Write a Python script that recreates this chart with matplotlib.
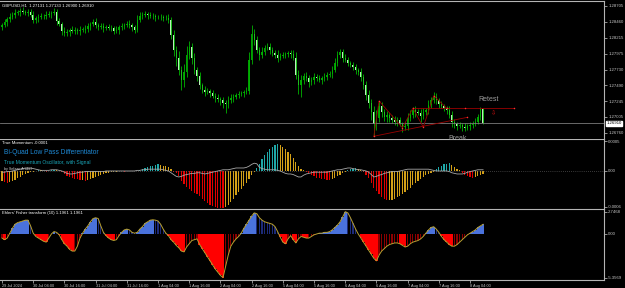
import matplotlib
matplotlib.use("Agg")
import matplotlib.pyplot as plt
import numpy as np

plt.rcParams["font.family"] = ["Liberation Sans", "DejaVu Sans"]

# ---- data (H1 bars, first bar 29 Jul 16:00) ----
first_open = 1.2838
closes = [
    1.2841, 1.2846, 1.2850, 1.2853, 1.2857, 1.2860, 1.2861, 1.2863, 1.2861, 1.2860,
    1.2861, 1.2857, 1.2849, 1.2852, 1.2853, 1.2855, 1.2855, 1.2857, 1.2858, 1.2860,
    1.2861, 1.2847, 1.2843, 1.2832, 1.2829, 1.2831, 1.2834, 1.2832, 1.2834, 1.2832,
    1.2834, 1.2834, 1.2835, 1.2840, 1.2843, 1.2846, 1.2841, 1.2838, 1.2840, 1.2837,
    1.2838, 1.2837, 1.2837, 1.2832, 1.2834, 1.2838, 1.2840, 1.2841, 1.2843, 1.2841,
    1.2838, 1.2834, 1.2849, 1.2855, 1.2857, 1.2858, 1.2857, 1.2855, 1.2855, 1.2853,
    1.2853, 1.2853, 1.2852, 1.2852, 1.2849, 1.2826, 1.2803, 1.2791, 1.2772, 1.2757,
    1.2769, 1.2795, 1.2808, 1.2791, 1.2772, 1.2763, 1.2749, 1.2742, 1.2739, 1.2740,
    1.2737, 1.2733, 1.2730, 1.2728, 1.2726, 1.2722, 1.2720, 1.2726, 1.2730, 1.2731,
    1.2734, 1.2736, 1.2737, 1.2739, 1.2740, 1.2788, 1.2827, 1.2818, 1.2803, 1.2795,
    1.2800, 1.2806, 1.2808, 1.2803, 1.2798, 1.2795, 1.2791, 1.2794, 1.2795, 1.2797,
    1.2798, 1.2797, 1.2791, 1.2765, 1.2749, 1.2757, 1.2763, 1.2760, 1.2754, 1.2757,
    1.2762, 1.2760, 1.2757, 1.2760, 1.2762, 1.2765, 1.2766, 1.2772, 1.2783, 1.2795,
    1.2800, 1.2791, 1.2788, 1.2783, 1.2780, 1.2777, 1.2772, 1.2769, 1.2762, 1.2749,
    1.2734, 1.2722, 1.2708, 1.2690, 1.2699, 1.2717, 1.2708, 1.2700, 1.2704, 1.2699,
    1.2696, 1.2693, 1.2696, 1.2690, 1.2685, 1.2687, 1.2699, 1.2704, 1.2711, 1.2708,
    1.2707, 1.2702, 1.2708, 1.2711, 1.2719, 1.2726, 1.2731, 1.2726, 1.2720, 1.2717,
    1.2714, 1.2711, 1.2704, 1.2693, 1.2690, 1.2687, 1.2688, 1.2685, 1.2684, 1.2687,
    1.2688, 1.2690, 1.2693, 1.2700, 1.27131, 1.26910,
]
# wick lengths in pips above the body top / below the body bottom
upper_wick = [
    4, 5, 3, 6, 4, 5, 3, 4, 6, 3, 5, 4, 6, 3, 5, 4, 3, 5, 4, 3,
    6, 4, 5, 3, 6, 4, 3, 5, 4, 3, 5, 4, 6, 5, 3, 4, 6, 3, 5, 4,
    3, 5, 4, 3, 6, 4, 5, 3, 4, 6, 3, 4, 8, 6, 4, 5, 3, 4, 5, 3,
    4, 5, 3, 4, 6, 5, 8, 6, 10, 7, 12, 14, 9, 6, 8, 5, 7, 4, 6, 5,
    4, 5, 4, 6, 3, 5, 4, 6, 5, 4, 3, 5, 4, 3, 6, 12, 15, 8, 6, 5,
    7, 4, 5, 6, 4, 5, 8, 4, 5, 3, 4, 5, 6, 9, 7, 8, 5, 6, 4, 5,
    6, 4, 5, 3, 6, 4, 5, 7, 8, 6, 5, 4, 6, 5, 3, 4, 5, 4, 6, 5,
    7, 8, 6, 10, 12, 8, 7, 5, 6, 4, 5, 6, 4, 5, 3, 6, 8, 7, 5, 6,
    4, 5, 6, 4, 7, 5, 8, 6, 4, 5, 3, 4, 6, 5, 4, 3, 5, 4, 6, 3,
    5, 4, 6, 5, 3, 1,
]
lower_wick = [
    5, 3, 6, 4, 3, 5, 4, 6, 3, 4, 5, 3, 5, 4, 6, 3, 4, 5, 3, 6,
    4, 5, 3, 6, 5, 4, 6, 3, 5, 4, 6, 3, 5, 4, 6, 3, 4, 5, 3, 6,
    4, 3, 5, 4, 3, 6, 4, 5, 3, 4, 6, 5, 4, 3, 5, 4, 6, 3, 4, 5,
    3, 4, 5, 3, 4, 6, 9, 12, 8, 15, 10, 7, 6, 9, 5, 8, 6, 5, 7, 4,
    6, 4, 6, 5, 7, 8, 14, 5, 4, 6, 3, 5, 4, 6, 3, 5, 6, 7, 5, 8,
    4, 5, 3, 6, 4, 5, 7, 4, 3, 5, 4, 6, 4, 7, 14, 18, 6, 5, 8, 4,
    6, 5, 3, 6, 4, 5, 4, 6, 3, 5, 4, 6, 4, 5, 3, 4, 6, 5, 7, 6,
    8, 7, 12, 19, 9, 6, 8, 5, 7, 6, 4, 5, 6, 4, 7, 5, 6, 4, 5, 7,
    3, 9, 5, 4, 6, 5, 4, 6, 5, 3, 4, 6, 5, 8, 6, 7, 4, 6, 5, 4,
    6, 5, 4, 3, 4, 2,
]
price_ticks = [1.26760, 1.27005, 1.27245, 1.27490, 1.27730, 1.27975, 1.28215, 1.28460, 1.28705]

# True Momentum histogram and its signal, in units of 1e-4
momentum = [
    -1.6, -1.9, -2.0, -1.9, -1.7, -1.5, -1.2, -1.0, -0.7, -0.5,
    -0.3, -0.2, -0.1, 0.0, 0.1, 0.1, 0.0, -0.1, 0.0, 0.1,
    0.2, 0.1, 0.0, -0.2, -0.5, -0.8, -1.0, -1.2, -1.3, -1.4,
    -1.5, -1.5, -1.6, -1.5, -1.4, -1.2, -1.0, -0.8, -0.6, -0.5,
    -0.4, -0.3, -0.2, -0.1, -0.1, 0.0, 0.0, -0.1, 0.0, 0.0,
    0.0, 0.0, 0.0, 0.1, 0.3, 0.5, 0.7, 0.8, 0.9, 1.0,
    1.1, 1.0, 0.9, 0.8, 0.6, 0.3, -0.1, -0.3, -0.8, -1.6,
    -2.2, -2.6, -3.0, -3.3, -3.6, -3.9, -4.2, -4.6, -5.0, -5.3,
    -5.6, -5.8, -6.0, -6.1, -6.15, -6.2, -6.0, -5.6, -5.2, -4.6,
    -4.0, -3.5, -3.0, -2.5, -2.0, -1.3, -0.6, -0.1, 0.5, 1.2,
    2.0, 2.6, 3.1, 3.6, 4.0, 4.4, 4.5, 4.3, 4.0, 3.7,
    3.2, 2.8, 2.2, 1.5, 0.8, 0.4, 0.2, -0.1, -0.4, -0.7,
    -0.9, -1.1, -1.2, -1.3, -1.4, -1.5, -1.55, -1.3, -1.1, -0.8,
    -0.6, -0.4, -0.2, 0.2, 0.3, 0.4, 0.5, 0.4, 0.2, -0.2,
    -0.6, -1.2, -2.0, -2.8, -3.4, -3.8, -4.3, -4.7, -4.9, -4.85,
    -4.8, -4.6, -4.4, -4.1, -3.8, -3.5, -3.2, -2.8, -2.4, -2.0,
    -1.7, -1.3, -1.0, -0.7, -0.5, -0.3, -0.1, 0.3, 0.6, 0.9,
    1.1, 1.2, 1.25, 1.0, 0.7, 0.4, 0.1, -0.3, -0.6, -0.8,
    -1.0, -1.1, -1.0, -0.8, -0.6, -0.5,
]
signal = [
    -0.2, -0.2, -0.1, -0.1, 0.0, 0.1, 0.2, 0.3, 0.4, 0.5,
    0.5, 0.5, 0.4, 0.3, 0.2, 0.1, 0.1, 0.1, 0.1, 0.2,
    0.2, 0.2, 0.1, 0.0, -0.2, -0.4, -0.5, -0.5, -0.4, -0.3,
    -0.2, -0.2, -0.1, -0.1, -0.1, -0.1, -0.1, -0.1, -0.1, -0.1,
    0.0, 0.0, 0.0, 0.0, 0.0, 0.0, 0.0, 0.0, 0.0, 0.0,
    0.0, 0.0, 0.1, 0.1, 0.2, 0.2, 0.3, 0.3, 0.3, 0.3,
    0.3, 0.3, 0.2, 0.1, 0.0, -0.3, -0.6, -0.9, -1.0, -0.9,
    -0.7, -0.6, -0.5, -0.4, -0.4, -0.3, -0.3, -0.4, -0.5, -0.4,
    -0.3, -0.2, -0.1, 0.0, 0.1, 0.2, 0.2, 0.2, 0.3, 0.4,
    0.5, 0.5, 0.5, 0.5, 0.6, 0.8, 1.1, 1.3, 1.2, 0.6,
    0.4, 0.3, 0.2, 0.2, 0.2, 0.2, 0.1, 0.0, -0.2, -0.4,
    -0.5, -0.5, -0.6, -0.8, -1.0, -1.0, -0.7, -0.5, -0.4, -0.3,
    -0.2, -0.2, -0.2, -0.2, -0.2, -0.2, -0.1, 0.0, 0.1, 0.2,
    0.2, 0.3, 0.4, 0.5, 0.5, 0.4, 0.3, 0.2, 0.2, 0.1,
    0.0, -0.2, -0.6, -1.0, -0.9, -0.7, -0.6, -0.4, -0.3, -0.2,
    -0.1, -0.1, -0.1, 0.0, 0.1, 0.2, 0.3, 0.3, 0.3, 0.3,
    0.3, 0.3, 0.3, 0.3, 0.3, 0.2, 0.1, 0.0, 0.0, 0.0,
    0.0, 0.0, -0.1, -0.3, -0.4, -0.5, -0.5, -0.5, -0.4, -0.2,
    -0.1, 0.0, 0.1, 0.2, 0.2, 0.2,
]
mom_ticks = [5.0, 0.0, -6.0]
mom_tick_labels = ["0.0005", "0.00", "-0.0006"]

# Ehlers' Fisher transform (10)
fisher = [
    -0.5, -0.7, -0.5, 0.1, 0.7, 1.2, 1.4, 1.5, 1.6, 1.7,
    1.7, 1.0, 0.1, -0.3, -0.5, -0.7, -0.9, -1.0, -0.5, 0.0,
    0.3, 0.2, -0.1, -0.7, -1.2, -1.5, -1.9, -2.1, -2.1, -1.5,
    -0.5, 0.1, 0.6, 1.0, 1.5, 1.9, 2.0, 1.9, 1.0, 0.2,
    -0.2, -0.5, -0.7, -0.8, -0.7, -0.2, 0.2, 0.5, 0.6, 0.5,
    0.2, 0.1, 0.2, 0.6, 0.9, 1.3, 1.5, 1.7, 1.75, 1.7,
    1.6, 1.2, 0.6, 0.1, -0.2, -0.7, -1.0, -1.4, -1.7, -2.1,
    -2.2, -1.6, -1.2, -0.8, -0.7, -0.6, -1.3, -1.8, -2.3, -2.8,
    -3.3, -3.8, -4.3, -4.7, -5.1, -5.3569, -4.0, -2.6, -1.5, -1.0,
    -0.6, -0.3, 0.1, 0.7, 1.2, 1.7, 2.2, 2.6, 2.5, 2.0,
    1.7, 1.5, 1.4, 1.3, 1.2, 0.9, 0.3, -0.4, -1.0, -1.2,
    -0.6, -0.2, -0.7, -1.1, -0.6, -0.3, -0.4, -0.5, -0.5, -0.3,
    -0.1, 0.0, 0.1, 0.1, 0.2, 0.2, 0.3, 0.5, 0.8, 1.1,
    1.5, 2.1, 2.7468, 2.6, 2.0, 1.3, 0.6, 0.0, -0.5, -1.0,
    -1.5, -2.0, -2.5, -3.0, -3.3, -2.6, -2.1, -1.8, -1.5, -1.3,
    -1.2, -1.1, -1.1, -1.2, -1.4, -1.6, -1.5, -1.2, -1.0, -0.9,
    -0.8, -0.6, -0.3, 0.1, 0.5, 0.8, 0.9, 0.6, 0.2, -0.3,
    -0.7, -1.0, -1.3, -1.5, -1.5, -1.3, -1.0, -0.7, -0.4, -0.1,
    0.1, 0.3, 0.5, 0.8, 1.0, 1.1961,
]
fisher_ticks = [2.7468, 0.0, -5.3569]
fisher_tick_labels = ["2.7468", "0.00", "-5.3569"]

time_labels = ["29 Jul 2024", "30 Jul 04:00", "30 Jul 16:00", "31 Jul 04:00", "31 Jul 16:00",
               "1 Aug 04:00", "1 Aug 16:00", "2 Aug 04:00", "2 Aug 16:00", "5 Aug 04:00",
               "5 Aug 16:00", "6 Aug 04:00", "6 Aug 16:00", "7 Aug 04:00", "7 Aug 16:00",
               "8 Aug 04:00"]
bars_per_label = 12

# hand-drawn pattern objects on the price chart (bar index, price)
zigzag_bars = [143, 145, 154, 158, 162, 166, 171]
zigzag_prices = [1.2671, 1.2725, 1.2684, 1.2714, 1.2685, 1.2733, 1.2714]
support_bars = [143, 179]
support_prices = [1.2671, 1.2700]
retest_bars = [158, 178, 197]
retest_prices = [1.2714, 1.2714, 1.2714]

# ---- figure ----
W, H = 625, 288
fig = plt.figure(figsize=(W / 100, H / 100), dpi=100, facecolor="black")
GRID = "#b4b4b4"
TXT = "#c8c8c8"
XLIM = (-0.77, 231.5)


def panel(top, bottom):
    ax = fig.add_axes([0, 1 - bottom / H, 604 / W, (bottom - top) / H])
    ax.set_facecolor("black")
    ax.spines["left"].set_visible(False)
    ax.spines["bottom"].set_visible(False)
    for s in ("top", "right"):
        ax.spines[s].set_color(GRID)
        ax.spines[s].set_linewidth(0.8)
    ax.set_xlim(*XLIM)
    ax.yaxis.tick_right()
    ax.tick_params(axis="y", colors=TXT, labelsize=3.1, length=2, width=0.5, pad=1)
    ax.tick_params(axis="x", bottom=False, labelbottom=False)
    return ax


main = panel(1, 139)
mom = panel(139, 209)
fis = panel(209, 280)
main.set_zorder(3)

# candles
idx = np.arange(len(closes))
c = np.array(closes)
o = np.array([first_open] + closes[:-1])
hi = np.maximum(o, c) + np.array(upper_wick) * 0.0001
lo = np.minimum(o, c) - np.array(lower_wick) * 0.0001
bull = c >= o
main.vlines(idx, lo, hi, color="#00b400", lw=0.6)
body = np.maximum(np.abs(c - o), 0.00004)
main.bar(idx[bull], body[bull], bottom=o[bull], width=0.55, color="#00a000", lw=0)
main.bar(idx[~bull], body[~bull], bottom=c[~bull], width=0.55, color="#b8f0b8", lw=0)
main.set_ylim(1.26668, 1.28780)
main.set_yticks(price_ticks)
main.set_yticklabels([f"{p:.5f}" for p in price_ticks])

# bid line + price box
main.axhline(closes[-1], color="#7a7a7a", lw=0.6)
main.text(1.004, closes[-1], f"{closes[-1]:.5f}", transform=main.get_yaxis_transform(),
          fontsize=3.1, color="black", va="center", ha="left",
          bbox=dict(boxstyle="square,pad=0.15", fc="white", ec="white"), clip_on=False)

# pattern lines
main.plot(zigzag_bars, zigzag_prices, color="#9a0000", lw=0.6)
main.plot(support_bars, support_prices, color="#9a0000", lw=0.6)
main.plot(retest_bars, retest_prices, color="#9a0000", lw=0.6)
main.scatter(zigzag_bars + support_bars[1:] + retest_bars[1:],
             zigzag_prices + support_prices[1:] + retest_prices[1:],
             s=1.2, color="#ff3030", zorder=4, lw=0)
main.text(187, 1.2728, "Retest", color="#9a9a9a", fontsize=5, ha="center", va="center")
main.text(175, 1.2668, "Break", color="#9a9a9a", fontsize=5, ha="center", va="center",
          clip_on=False, zorder=10)
main.text(189, 1.2706, "\u21e9", color="#d01010", fontsize=4.5, ha="center", va="center",
          family="DejaVu Sans")
main.text(0.004, 0.985, "GBPUSD,H1  1.27131 1.27133 1.26900 1.26910", transform=main.transAxes,
          color="white", fontsize=3.1, va="top", ha="left")

# True Momentum panel
m = np.array(momentum)
dm = np.diff(np.r_[m[0], m])
mcol = np.where(m >= 0, np.where(dm > 0, "#1fa8a8", "#d4a017"),
                np.where(dm < 0, "#e00000", "#d4a017"))
mom.axhline(0, color="#707070", lw=0.5, ls=(0, (1, 2)))
mom.bar(idx, m, width=0.45, color=mcol, lw=0)
mom.plot(idx, signal, color="#a8a8a8", lw=0.6)
mom.set_ylim(-6.35, 5.34)
mom.set_yticks(mom_ticks)
mom.set_yticklabels(mom_tick_labels)
mom.text(0.004, 0.975, "True Momentum -0.0001", transform=mom.transAxes, color="white",
         fontsize=3.1, va="top", ha="left")
mom.text(0.006, 0.80, "Bi-Quad Low Pass Differentiator", transform=mom.transAxes,
         color="#1e8ad6", fontsize=4.8, va="center", ha="left")
mom.text(0.006, 0.67, "True Momentum Oscillator, with Signal", transform=mom.transAxes,
         color="#1aa6b8", fontsize=3.6, va="center", ha="left")
mom.text(0.006, 0.575, "by Sefaan Arabel", transform=mom.transAxes,
         color="#d0d0d0", fontsize=2.6, va="center", ha="left")

# Fisher panel
f = np.array(fisher)
df = np.diff(np.r_[f[0], f])
strong = ((f >= 0) & (df >= 0)) | ((f < 0) & (df < 0))
fcol = np.where(f >= 0, np.where(strong, "#4a72dc", "#1c2a78"),
                np.where(strong, "#ff0000", "#8c0000"))
fw = np.where(strong, 1.0, 0.45)
fis.bar(idx, f, width=fw, color=fcol, lw=0)
fis.plot(idx, f, color="#b8a030", lw=0.7)
fis.set_ylim(-5.66, 3.075)
fis.set_yticks(fisher_ticks)
fis.set_yticklabels(fisher_tick_labels)
fis.spines["bottom"].set_visible(True)
fis.spines["bottom"].set_color(GRID)
fis.spines["bottom"].set_linewidth(0.8)
fis.text(0.004, 0.975, "Ehlers' Fisher transform (10) 1.1961 1.1961", transform=fis.transAxes,
         color="white", fontsize=3.1, va="top", ha="left")

fis.set_xticks(np.arange(len(time_labels)) * bars_per_label)
fis.set_xticklabels(time_labels, ha="left")
fis.tick_params(axis="x", bottom=True, labelbottom=True, colors=TXT, labelsize=2.8,
                length=2, width=0.5, pad=1)

fig.savefig("out.png", dpi=100, facecolor="black")
